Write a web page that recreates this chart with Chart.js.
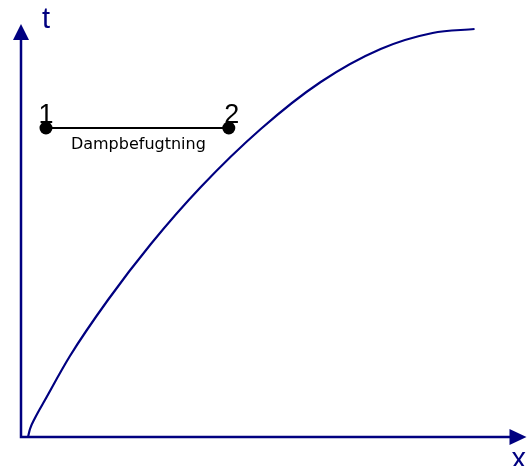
<!DOCTYPE html>
<html>
<head>
<meta charset="utf-8">
<script src="https://cdn.jsdelivr.net/npm/chart.js@4"></script>
<style>
  html, body { margin: 0; padding: 0; background: #fff; }
  #wrap { width: 527px; height: 466px; }
</style>
</head>
<body>
<div id="wrap"><canvas id="diagram"></canvas></div>
<script>
// kurve (x, t)
const curveX = [7, 9, 14, 24, 49, 87, 130, 180, 240, 300, 360, 412, 454];
const curveT = [0, 8, 19, 37, 81, 137, 193, 250, 308, 355, 388, 404, 408];

// proces 1 -> 2
const procX = [25, 208];
const procT = [309, 309];
const procLabels = ['1', '2'];
const procName = 'Dampbefugtning';

const axisNames = ['x', 't'];
const navy = '#000080';

// tegner akser, pile og tekster
const diagramPlugin = {
    id: 'diagram',
    afterDatasetsDraw(chart) {
        const c = chart.ctx;
        const xs = chart.scales.x, ys = chart.scales.y;
        const x0 = xs.getPixelForValue(0), y0 = ys.getPixelForValue(0);
        const xEnd = xs.getPixelForValue(506), yEnd = ys.getPixelForValue(413);
        c.save();
        c.strokeStyle = navy;
        c.fillStyle = navy;
        c.lineWidth = 2.5;
        c.beginPath();
        c.moveTo(x0, yEnd + 10);
        c.lineTo(x0, y0);
        c.lineTo(xEnd - 10, y0);
        c.stroke();
        // pile
        c.beginPath();
        c.moveTo(x0, yEnd);
        c.lineTo(x0 - 8, yEnd + 16);
        c.lineTo(x0 + 8, yEnd + 16);
        c.closePath();
        c.fill();
        c.beginPath();
        c.moveTo(xEnd, y0);
        c.lineTo(xEnd - 17, y0 - 8);
        c.lineTo(xEnd - 17, y0 + 8);
        c.closePath();
        c.fill();
        c.font = '29px "Liberation Sans", Arial, sans-serif';
        c.textAlign = 'left';
        c.textBaseline = 'alphabetic';
        c.fillText(axisNames[1], x0 + 21, yEnd + 4);
        c.fillText(axisNames[0], xEnd - 15, y0 + 31);

        // punkt-tekster
        const meta = chart.getDatasetMeta(1);
        c.fillStyle = '#000';
        c.textAlign = 'center';
        c.font = '27px "Liberation Sans", Arial, sans-serif';
        meta.data.forEach((pt, i) => {
            c.fillText(procLabels[i], pt.x + (i === 0 ? 0 : 3), pt.y - 5);
        });
        c.font = '16px "DejaVu Sans", Verdana, sans-serif';
        const mid = (meta.data[0].x + meta.data[1].x) / 2;
        c.fillText(procName, mid + 1, meta.data[0].y + 21);
        c.restore();
    }
};

new Chart(document.getElementById('diagram'), {
    type: 'line',
    data: {
        datasets: [
            {
                data: curveX.map((x, i) => ({ x: x, y: curveT[i] })),
                borderColor: navy,
                borderWidth: 2.2,
                pointRadius: 0,
                cubicInterpolationMode: 'monotone',
                fill: false
            },
            {
                data: procX.map((x, i) => ({ x: x, y: procT[i] })),
                borderColor: '#000',
                backgroundColor: '#000',
                borderWidth: 2,
                pointRadius: 6.5,
                pointBackgroundColor: '#000',
                pointBorderWidth: 0,
                fill: false
            }
        ]
    },
    options: {
        responsive: true,
        maintainAspectRatio: false,
        animation: false,
        layout: { padding: { left: 21, right: 6, top: 17, bottom: 29 } },
        plugins: { legend: { display: false }, tooltip: { enabled: false } },
        scales: {
            x: { type: 'linear', min: 0, max: 500, display: false },
            y: { type: 'linear', min: 0, max: 420, display: false }
        }
    },
    plugins: [diagramPlugin]
});
</script>
</body>
</html>
